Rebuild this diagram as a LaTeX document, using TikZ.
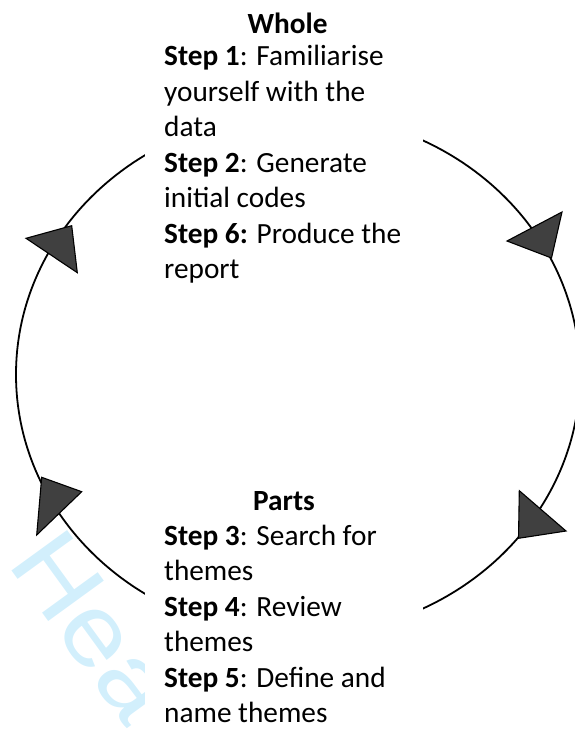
\documentclass[tikz,border=0pt]{standalone}
\usepackage{fontspec}
\setmainfont{Carlito}
\newfontfamily\wmfont[FakeStretch=1.12]{Liberation Sans}
\definecolor{headgray}{RGB}{64,64,64}
\definecolor{wmcyan}{RGB}{210,239,252}
\begin{document}
\begin{tikzpicture}[x=1pt,y=-1pt,
  cycleline/.style={line width=1.8pt, draw=black},
  arrowhead/.style={fill=headgray, draw=black, line width=1.1pt, line join=miter},
  coverbox/.style={fill=white, draw=none, inner sep=0pt, outer sep=0pt, anchor=north west},
  titletext/.style={inner sep=0pt, anchor=base, font=\fontsize{29.3}{35.5}\selectfont\bfseries},
  steptext/.style={inner sep=0pt, anchor=base west, text width=250pt, align=flush left, font=\fontsize{29.3}{35.5}\selectfont},
  watermark/.style={inner sep=0pt, anchor=base west, rotate=-54, text=wmcyan, font=\wmfont\fontsize{100}{100}\selectfont}
  ]
\useasboundingbox (0,0) rectangle (574,731);
% watermark
\node[watermark] (wm) at (6,563) {Hea};
% cycle
\coordinate (c) at (298,374.5);
\draw[cycleline] (c) ellipse [x radius=282, y radius=261];
% white text boxes
\node[coverbox, minimum width=278pt, minimum height=300pt] (topbox) at (145,0) {};
\node[coverbox, minimum width=278pt, minimum height=261pt] (bottombox) at (145,470) {};
% arrowheads
\draw[arrowhead] (507,241) -- (562,212) -- (551.5,258) -- cycle;
\draw[arrowhead] (519.3,490.7) -- (566,531) -- (518.5,538.3) -- cycle;
\draw[arrowhead] (26,238.3) -- (71.7,225.7) -- (77.3,272.7) -- cycle;
\draw[arrowhead] (41.7,477.3) -- (81.7,491.7) -- (36.7,535) -- cycle;
% texts
\node[titletext] (whole) at (287.5,33) {Whole};
\node[steptext] (topsteps) at (164,65.5) {\textbf{Step 1}: Familiarise\\yourself with the\\data\\\textbf{Step 2}: Generate\\initial codes\\\textbf{Step 6:} Produce the\\report};
\node[titletext] (parts) at (284,510) {Parts};
\node[steptext] (bottomsteps) at (164,545) {\textbf{Step 3}: Search for\\themes\\\textbf{Step 4}: Review\\themes\\\textbf{Step 5}: Define and\\name themes};
\end{tikzpicture}
\end{document}
